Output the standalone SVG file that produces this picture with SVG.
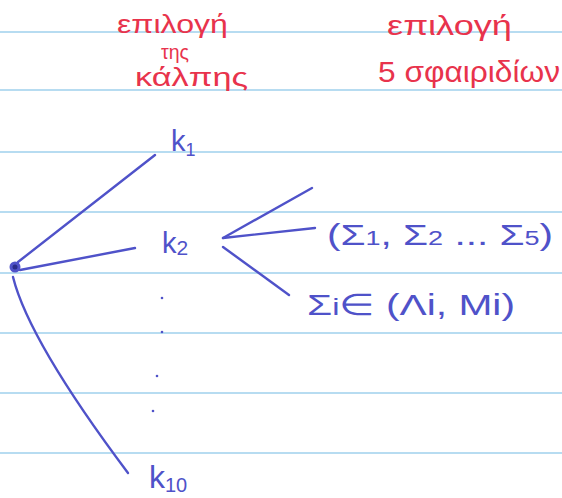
<svg xmlns="http://www.w3.org/2000/svg" width="562" height="498" viewBox="0 0 562 498">
<style>
.rule{stroke:#9fd0ec;stroke-width:1.6}
.red{fill:#e8334c;font-family:"Liberation Sans","Noto Sans",sans-serif}
.blue{fill:#4f52c9;font-family:"Liberation Sans","Noto Sans",sans-serif}
.edge{stroke:#4f52c9;stroke-width:2.4;fill:none;stroke-linecap:round}
.dot{fill:#4f52c9}
</style>
<rect width="562" height="498" fill="#ffffff"/>
<g id="paper">
<line class="rule" x1="0" y1="32" x2="562" y2="32"/>
<line class="rule" x1="0" y1="90" x2="562" y2="90"/>
<line class="rule" x1="0" y1="152" x2="562" y2="152"/>
<line class="rule" x1="0" y1="212" x2="562" y2="212"/>
<line class="rule" x1="0" y1="273" x2="562" y2="273"/>
<line class="rule" x1="0" y1="333" x2="562" y2="333"/>
<line class="rule" x1="0" y1="393" x2="562" y2="393"/>
<line class="rule" x1="0" y1="453" x2="562" y2="453"/>
</g>
<g id="header-left">
<text class="red" x="117" y="33" font-size="26" textLength="111" lengthAdjust="spacingAndGlyphs">επιλογή</text>
<text class="red" x="161" y="59" font-size="20" textLength="28" lengthAdjust="spacingAndGlyphs">της</text>
<text class="red" x="135" y="86" font-size="25" textLength="113" lengthAdjust="spacingAndGlyphs">κάλπης</text>
</g>
<g id="header-right">
<text class="red" x="387" y="35" font-size="27" textLength="125" lengthAdjust="spacingAndGlyphs">επιλογή</text>
<text class="red" x="378" y="82" font-size="29" textLength="182" lengthAdjust="spacingAndGlyphs">5 σφαιριδίων</text>
</g>
<g id="connectors">
<line class="edge" x1="18" y1="262" x2="155" y2="155"/>
<line class="edge" x1="20" y1="270" x2="135" y2="248"/>
<path class="edge" d="M13,277 Q29,341 128,473"/>
<line class="edge" x1="223" y1="238" x2="312" y2="188"/>
<line class="edge" x1="223" y1="238" x2="315" y2="228"/>
<line class="edge" x1="223" y1="247" x2="289" y2="295"/>
</g>
<g id="root">
<circle cx="15" cy="267" r="5.5" fill="#4f52c9"/>
<circle cx="15" cy="267" r="2.5" fill="#2a2c8a"/>
</g>
<g id="k1">
<text class="blue" x="171" y="151" font-size="29">k<tspan font-size="18" dy="5">1</tspan></text>
</g>
<g id="k2">
<text class="blue" x="162" y="253" font-size="29">k<tspan font-size="21" dy="2">2</tspan></text>
</g>
<g id="k10">
<text class="blue" x="149" y="488" font-size="32">k<tspan font-size="20" dy="4">10</tspan></text>
</g>
<g id="dots">
<circle class="dot" cx="162" cy="298" r="1.3"/>
<circle class="dot" cx="162" cy="332" r="1.3"/>
<circle class="dot" cx="157" cy="376" r="1.3"/>
<circle class="dot" cx="153" cy="411" r="1.3"/>
</g>
<g id="balls-ordered">
<text class="blue" x="327" y="245" font-size="30" textLength="226" lengthAdjust="spacingAndGlyphs">(Σ<tspan font-size="20">1</tspan>, Σ<tspan font-size="20">2</tspan> ... Σ<tspan font-size="20">5</tspan>)</text>
</g>
<g id="balls-set">
<text class="blue" x="307" y="315" font-size="30" textLength="208" lengthAdjust="spacingAndGlyphs">Σ<tspan font-size="24">i</tspan>∈ (Λi, Mi)</text>
</g>
</svg>
